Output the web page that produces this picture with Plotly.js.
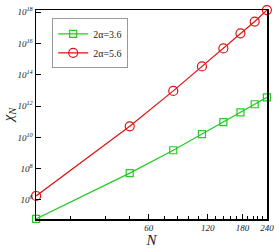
<!DOCTYPE html>
<html>
<head>
<script src="https://cdn.plot.ly/plotly-3.0.1.min.js"></script>
<style>html,body{margin:0;padding:0;background:#fff;}#chart{width:279px;height:248px;}</style>
</head>
<body>
<div id="chart"></div>
<script>
var N = [16, 48, 80, 112, 144, 176, 208, 240];
var chi36 = [6.2e4, 5.2e7, 1.5e9, 1.6e10, 9.3e10, 4.0e11, 1.3e12, 3.6e12];
var chi56 = [1.8e6, 5.1e10, 9.3e12, 3.4e14, 4.8e15, 4.4e16, 2.5e17, 1.35e18];
var seriesNames = ["2α=3.6", "2α=5.6"];
var xTickVals = [60, 120, 180, 240];
var xTickText = ["60", "120", "180", "240"];
var xMinorVals = [24, 36, 48, 72, 84, 96, 108, 132, 144, 156, 168, 192, 204, 216, 228];
var yTickVals = [1e6, 1e8, 1e10, 1e12, 1e14, 1e16, 1e18];
var yTickText = ["10<sup>6</sup>", "10<sup>8</sup>", "10<sup>10</sup>", "10<sup>12</sup>", "10<sup>14</sup>", "10<sup>16</sup>", "10<sup>18</sup>"];

var serif = "Liberation Serif, Times New Roman, serif";
var traces = [
  {x: N, y: chi36, name: seriesNames[0], mode: "lines+markers", cliponaxis: false,
   line: {color: "#22cc22", width: 1.2},
   marker: {symbol: "square-open", size: 7, color: "#22cc22", line: {width: 1.2}}},
  {x: N, y: chi56, name: seriesNames[1], mode: "lines+markers", cliponaxis: false,
   line: {color: "#dd1111", width: 1.2},
   marker: {symbol: "circle-open", size: 9, color: "#dd1111", line: {width: 1.2}}}
];
var layout = {
  width: 279, height: 248,
  margin: {l: 36, r: 12, t: 10, b: 29},
  paper_bgcolor: "#fff", plot_bgcolor: "#fff",
  showlegend: true,
  legend: {x: 0.07, y: 0.96, xanchor: "left", yanchor: "top",
           bordercolor: "#999", borderwidth: 1, bgcolor: "#fff",
           font: {family: serif, size: 10, color: "#222"}, tracegroupgap: 0},
  xaxis: {type: "log", range: [Math.log10(15.98), Math.log10(240.3)],
          showline: true, linecolor: "#000", linewidth: 1.5, mirror: true,
          showgrid: false, zeroline: false,
          ticks: "inside", ticklen: 5, tickcolor: "#000", tickwidth: 1,
          tickmode: "array", tickvals: xTickVals, ticktext: xTickText,
          tickfont: {family: serif, size: 9, color: "#222", style: "italic"},
          minor: {tickmode: "array", tickvals: xMinorVals, ticks: "inside", ticklen: 3, tickcolor: "#000", showgrid: false},
          title: {text: "N", font: {family: serif, size: 15, color: "#222", style: "italic"}, standoff: 0}},
  yaxis: {type: "log", range: [4.785, 18.135],
          showline: true, linecolor: "#000", linewidth: 1.5, mirror: true,
          showgrid: false, zeroline: false,
          ticks: "inside", ticklen: 5, tickcolor: "#000", tickwidth: 1,
          tickmode: "array", tickvals: yTickVals, ticktext: yTickText,
          tickfont: {family: serif, size: 9, color: "#222", style: "italic"},
          title: {text: "χ<sub>N</sub>", font: {family: serif, size: 15, color: "#222", style: "italic"}, standoff: 0}}
};
Plotly.newPlot("chart", traces, layout, {displayModeBar: false, staticPlot: true});
</script>
</body>
</html>
